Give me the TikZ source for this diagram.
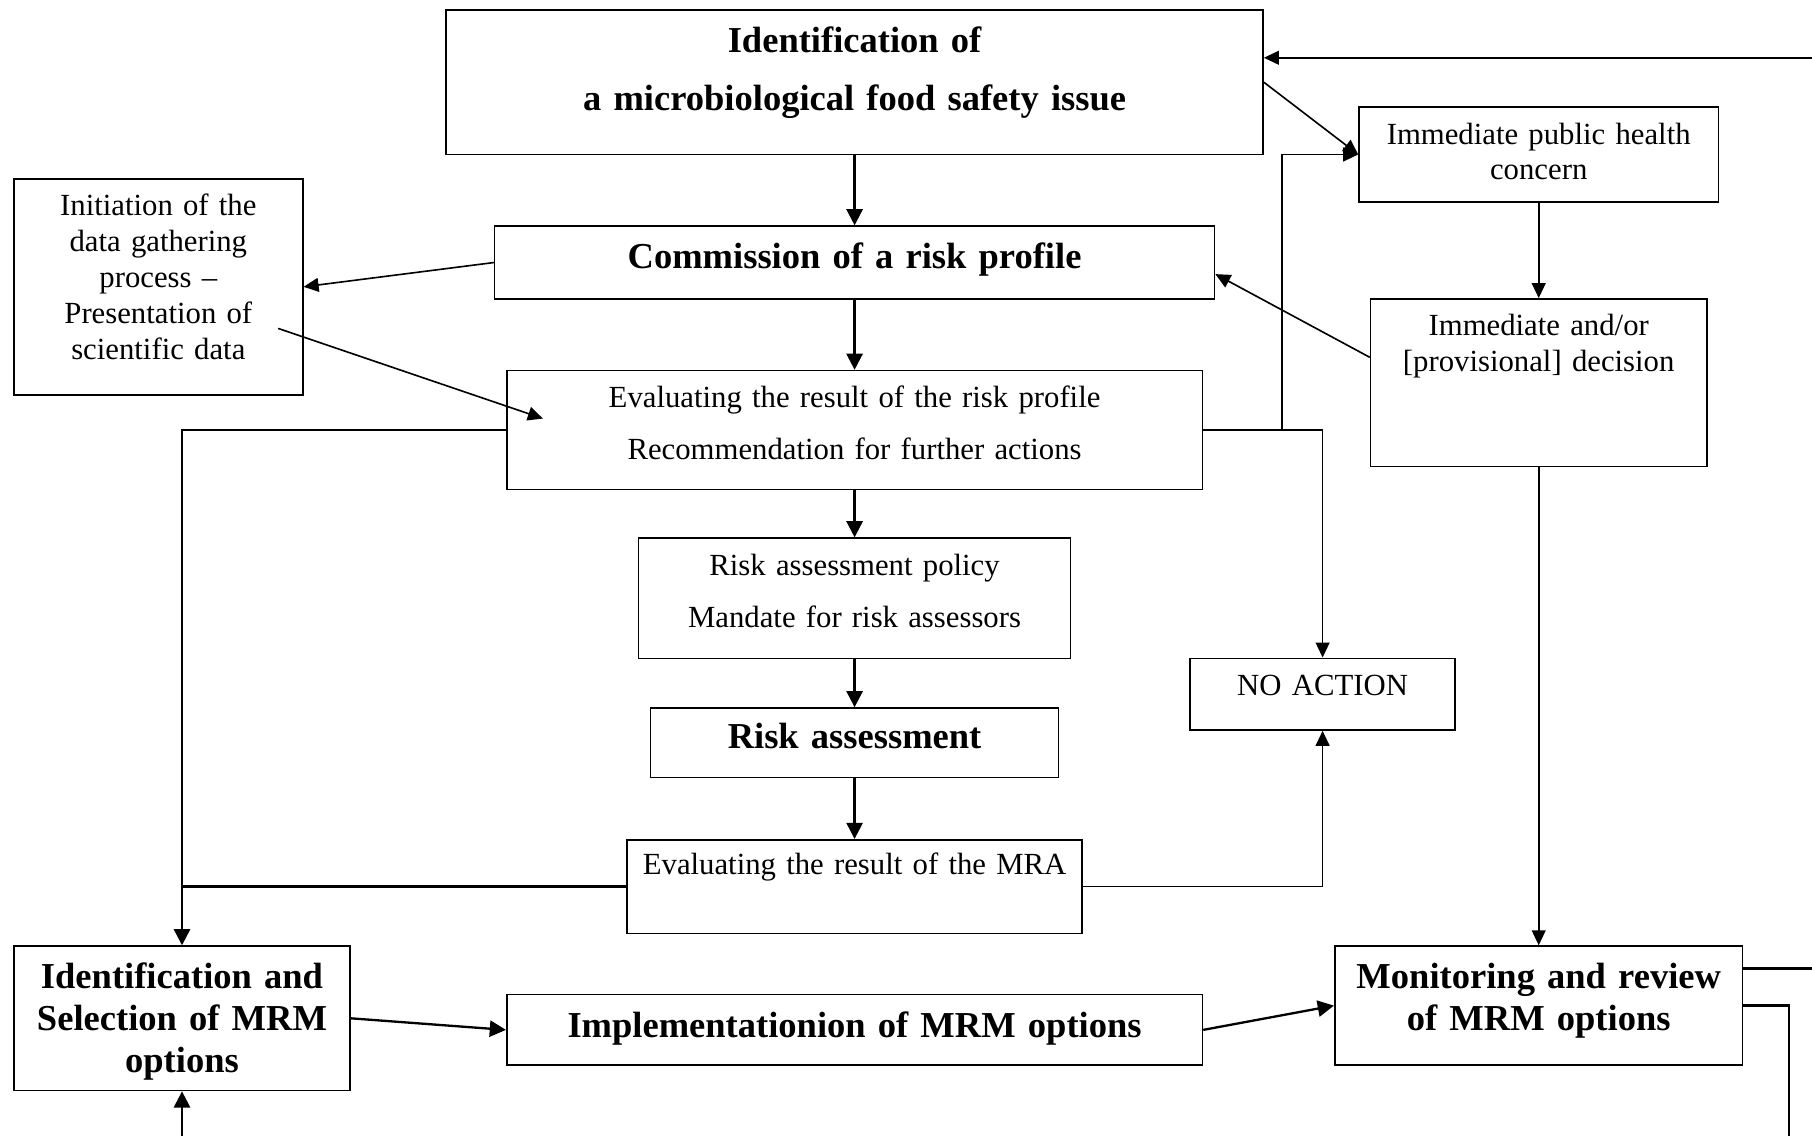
\documentclass[tikz,border=0pt]{standalone}
\usepackage{fontspec}
\setmainfont{Liberation Serif}
\usetikzlibrary{arrows.meta, positioning}

\begin{document}
\begin{tikzpicture}[x=0.5pt, y=-0.5pt]
% Define styles
\tikzstyle{plain}=[rectangle, draw, line width=0.7pt, inner sep=0pt, anchor=north, align=center, font=\fontsize{13.3}{15.5}\selectfont, text height=16pt]
\tikzstyle{strong}=[plain, font=\fontsize{15.8}{18}\selectfont\bfseries, text height=18.5pt]
\tikzstyle{arrow}=[line width=0.7pt, ->, >={Triangle[length=6.5pt,width=6pt]}]
\tikzstyle{thickarrow}=[line width=1pt, ->, >={Triangle[length=7pt,width=7pt]}]
\tikzstyle{link}=[line width=1pt]
\useasboundingbox (0,0) rectangle (1568,983);
% Place nodes
\node[strong, text width=353.5pt, text depth=44pt] (issue) at (739.5,8) {Identification of\\[7pt] a microbiological food safety issue};
\node[plain, text width=155.5pt, text depth=25pt] (ipc) at (1331.5,92) {Immediate public health\\ concern};
\node[plain, text width=125pt, text depth=77.5pt] (init) at (137,154) {Initiation of the\\ data gathering\\ process --\\ Presentation of\\ scientific data};
\node[strong, text width=311.5pt, text depth=13pt] (commission) at (739.5,195) {Commission of a risk profile};
\node[plain, text width=145.5pt, text depth=56.5pt] (decision) at (1331.5,258) {Immediate and/or\\ {[provisional]} decision};
\node[plain, text width=301pt, text depth=35.5pt] (evalrp) at (739.5,320) {Evaluating the result of the risk profile\\[7pt] Recommendation for further actions};
\node[plain, text width=187pt, text depth=36pt] (policy) at (739.5,465) {Risk assessment policy\\[7pt] Mandate for risk assessors};
\node[plain, text width=114.5pt, text depth=15pt] (noaction) at (1144.5,569) {NO ACTION};
\node[strong, text width=176.5pt, text depth=12.5pt, text height=17.5pt] (riskass) at (739.5,612) {Risk assessment};
\node[plain, text width=197pt, text depth=25.5pt, text height=15pt] (evalmra) at (739.5,726) {Evaluating the result of the MRA};
\node[strong, text width=145.5pt, text depth=44pt] (idsel) at (157.5,818) {Identification and\\ Selection of MRM\\ options};
\node[strong, text width=301pt, text depth=12pt] (impl) at (739.5,860) {Implementationion of MRM options};
\node[strong, text width=176.5pt, text depth=33pt] (monitor) at (1331.5,818) {Monitoring and review\\ of MRM options};
% Loose ends at the page edge
\coordinate (fbin) at (1568,50);
\coordinate (fbout) at (1568,838);
\coordinate (loopend) at (1548,983);
\coordinate (loopstart) at (157.5,983);
% Draw arrows
\draw[arrow] (fbin) -- (fbin -| issue.east);
\draw[arrow] (issue.east) -- (ipc.west);
\draw[thickarrow] (issue.south) -- (issue.south |- commission.north);
\draw[thickarrow] (commission.south) -- (commission.south |- evalrp.north);
\draw[thickarrow] (evalrp.south) -- (evalrp.south |- policy.north);
\draw[thickarrow] (policy.south) -- (policy.south |- riskass.north);
\draw[thickarrow] (riskass.south) -- (riskass.south |- evalmra.north);
\draw[arrow] (ipc) -- (decision);
\draw[arrow] (decision) -- (monitor);
\draw[arrow] (commission.west) -- (init.east);
\draw[arrow] ([shift={(-22,36)}]init.east) -- ([shift={(32,-10)}]evalrp.west);
\draw[arrow] ([shift={(0,-22)}]decision.west) -- ([shift={(0,10)}]commission.east);
\draw[arrow] (evalrp.east) -- ++(68,0) |- (ipc.west);
\draw[arrow] (evalrp.east) -| (noaction.north);
\draw[thickarrow] (evalrp.west) -| (idsel.north);
\draw[link] (evalmra.west) -- (evalmra.west -| idsel.north);
\draw[arrow] (evalmra.east) -| (noaction.south);
\draw[thickarrow] (idsel.east) -- (impl.west);
\draw[thickarrow] (impl.east) -- (monitor.west);
\draw[link] (fbout -| monitor.east) -- (fbout);
\draw[link] (monitor.east) -| (loopend);
\draw[thickarrow] (loopstart) -- (idsel.south);
\end{tikzpicture}
\end{document}
